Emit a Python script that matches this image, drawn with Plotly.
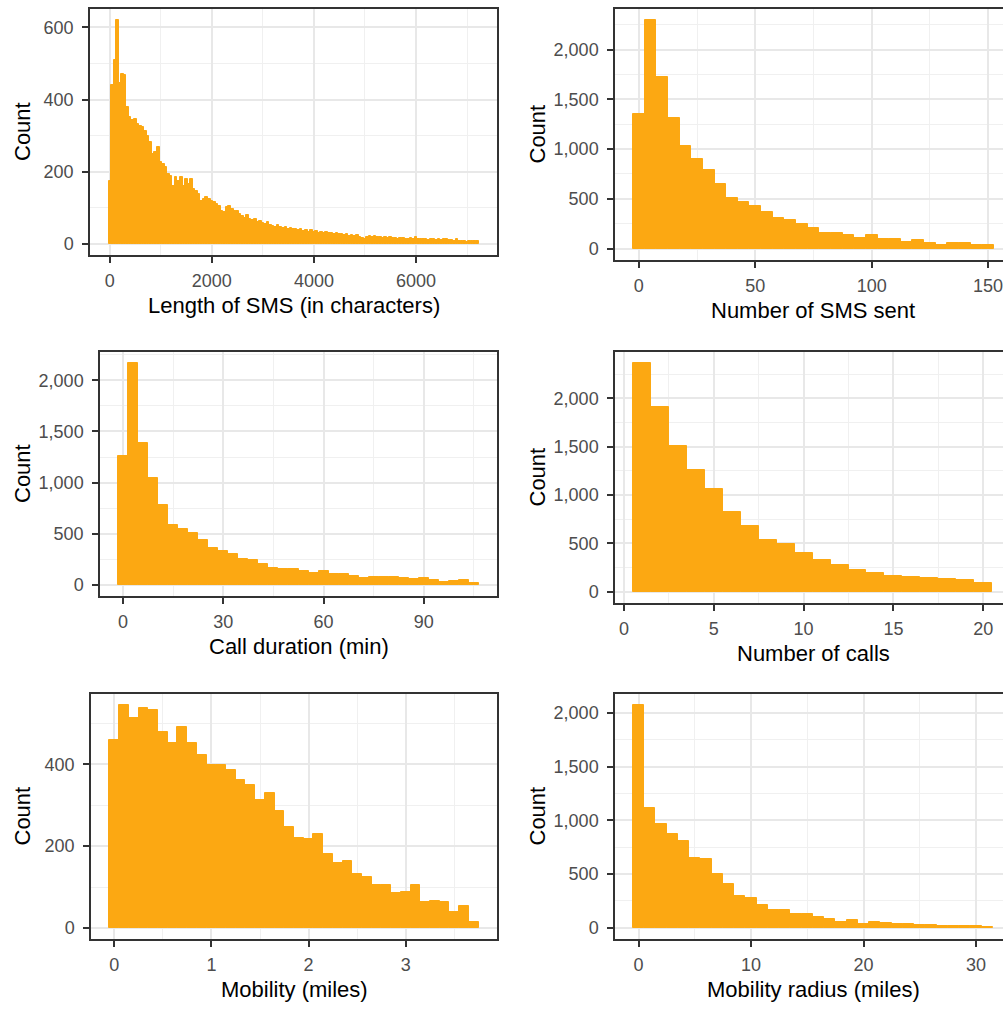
import numpy as np
import plotly.graph_objects as go

# ---------------- DATA ----------------
# Panel 1: Length of SMS (in characters), bin width 50, first bin centred at 0
sms_len_start = 0
sms_len_width = 50
sms_len_counts = [
    175, 440, 510, 620, 445, 470, 468, 380, 352, 342,
    347, 333, 328, 325, 314, 300, 281, 250, 254, 268,
    226, 222, 212, 194, 189, 161, 184, 175, 184, 161,
    180, 165, 180, 153, 147, 139, 119, 125, 129, 125,
    120, 115, 111, 106, 92, 87, 101, 106, 97, 92,
    90, 84,
    78, 72, 80, 70, 66, 68, 60, 62, 58, 54,
    60, 52, 50, 48, 52, 46, 45, 48, 42, 44,
    40, 42, 38, 41, 36, 38, 34, 37, 33, 35,
    31, 34, 30, 32, 29, 31, 28, 30, 26, 28,
    25, 27, 23, 25, 22, 24, 20, 17, 12, 18,
    21, 19, 22, 18, 20, 17, 19, 16, 18, 15,
    17, 14, 16, 15, 14, 13, 15, 12, 18, 13,
    12, 14, 13, 11, 13, 12, 10, 12, 11, 13,
    12, 10, 11, 9, 12, 9, 8, 7, 6, 7,
    8, 9, 7,
]

# Panel 2: Number of SMS sent, bin width 5, centred at 0
sms_num_start = 0
sms_num_width = 5
sms_num_counts = [
    1353, 2293, 1727, 1310, 1027, 900, 793, 650, 507, 470,
    427, 367, 310, 287, 250, 207, 160, 160, 137, 110,
    133, 93, 100, 70, 83, 60, 40, 53, 53, 33, 33,
]

# Panel 3: Call duration (min), bin width 3, centred at 0
call_dur_start = 0
call_dur_width = 3
call_dur_counts = [
    1264, 2169, 1391, 1050, 784, 590, 551, 509, 444, 363,
    331, 298, 250, 240, 201, 169, 159, 152, 136, 120,
    136, 110, 104, 88, 65, 81, 81, 81, 71, 55,
    65, 49, 29, 39, 45, 16,
]

# Panel 4: Number of calls, bin width 1, centred at 1
call_num_start = 1
call_num_width = 1
call_num_counts = [
    2361, 1907, 1502, 1254, 1065, 821, 677, 529, 495, 395,
    326, 275, 220, 196, 162, 151, 137, 127, 117, 86,
]

# Panel 5: Mobility (miles), bin width 0.1, centred at 0
mob_start = 0
mob_width = 0.1
mob_counts = [
    460, 545, 513, 539, 533, 478, 451, 491, 451, 423,
    398, 398, 386, 362, 349, 313, 329, 286, 247, 221,
    217, 229, 180, 159, 163, 131, 125, 104, 104, 86,
    88, 106, 64, 65, 64, 39, 54, 15,
]

# Panel 6: Mobility radius (miles), bin width 1, centred at 0
rad_start = 0
rad_width = 1
rad_counts = [
    2071, 1113, 968, 875, 804, 649, 643, 501, 411, 300,
    278, 216, 170, 170, 130, 130, 102, 83, 53, 71,
    40, 53, 46, 37, 34, 28, 25, 22, 15, 19,
    22, 6,
]

x_titles = ["Length of SMS (in characters)", "Number of SMS sent",
            "Call duration (min)", "Number of calls",
            "Mobility (miles)", "Mobility radius (miles)"]
y_title = "Count"

# ---------------- STYLE / LAYOUT ----------------
W, H = 1003, 1011
BAR_COLOR = "#FCA812"
FONT = "Liberation Sans, Arial, sans-serif"
TICK_COLOR = "#4D4D4D"
BORDER = "#333333"
GRID = "#E8E8E8"
GRID_MINOR = "#F0F0F0"

panels = [
    dict(counts=sms_len_counts, start=sms_len_start, width=sms_len_width,
         xr=[-387.5, 7587.5], yr=[-31, 651],
         xt=[0, 2000, 4000, 6000], xm=[1000, 3000, 5000, 7000],
         yt=[0, 200, 400, 600], ym=[100, 300, 500],
         box=(90, 497, 9, 255), cut=False, xc=293.5),
    dict(counts=sms_num_counts, start=sms_num_start, width=sms_num_width,
         xr=[-10.25, 156.4], yr=[-115, 2408],
         xt=[0, 50, 100, 150], xm=[25, 75, 125],
         yt=[0, 500, 1000, 1500, 2000], ym=[250, 750, 1250, 1750, 2250],
         box=(615, 1003, 9, 260), cut=True, xc=813),
    dict(counts=call_dur_counts, start=call_dur_start, width=call_dur_width,
         xr=[-6.9, 111.9], yr=[-108, 2277],
         xt=[0, 30, 60, 90], xm=[15, 45, 75, 105],
         yt=[0, 500, 1000, 1500, 2000], ym=[250, 750, 1250, 1750, 2250],
         box=(100, 497, 352, 596), cut=False, xc=298.5),
    dict(counts=call_num_counts, start=call_num_start, width=call_num_width,
         xr=[-0.5, 21.1], yr=[-118, 2479],
         xt=[0, 5, 10, 15, 20], xm=[2.5, 7.5, 12.5, 17.5],
         yt=[0, 500, 1000, 1500, 2000], ym=[250, 750, 1250, 1750, 2250],
         box=(615, 1003, 352, 603), cut=True, xc=813),
    dict(counts=mob_counts, start=mob_start, width=mob_width,
         xr=[-0.24, 3.94], yr=[-27, 572],
         xt=[0, 1, 2, 3], xm=[0.5, 1.5, 2.5, 3.5],
         yt=[0, 200, 400], ym=[100, 300, 500],
         box=(91, 497, 694, 939), cut=False, xc=294),
    dict(counts=rad_counts, start=rad_start, width=rad_width,
         xr=[-2.1, 32.4], yr=[-103.5, 2175],
         xt=[0, 10, 20, 30], xm=[5, 15, 25],
         yt=[0, 500, 1000, 1500, 2000], ym=[250, 750, 1250, 1750],
         box=(615, 1003, 694, 939), cut=True, xc=813),
]

fig = go.Figure()
layout = dict(
    width=W, height=H,
    margin=dict(l=0, r=0, t=0, b=0),
    paper_bgcolor="white", plot_bgcolor="white",
    showlegend=False, bargap=0,
    font=dict(family=FONT, color=TICK_COLOR, size=18),
)
annotations = []

for i, p in enumerate(panels):
    n = i + 1
    xa = "x" if n == 1 else f"x{n}"
    ya = "y" if n == 1 else f"y{n}"
    counts = np.array(p["counts"], dtype=float)
    centers = p["start"] + p["width"] * np.arange(len(counts))
    fig.add_trace(go.Bar(
        x=centers, y=counts, width=p["width"],
        marker=dict(color=BAR_COLOR, line=dict(color=BAR_COLOR, width=1.0)),
        xaxis=xa, yaxis=ya, hoverinfo="x+y",
    ))
    x0, x1, y0, y1 = p["box"]
    common = dict(
        showgrid=True, gridcolor=GRID, gridwidth=1.6,
        zeroline=False, showline=True, linecolor=BORDER, linewidth=1.5,
        ticks="outside", ticklen=6, tickwidth=1.5, tickcolor=BORDER,
        tickfont=dict(family=FONT, size=18, color=TICK_COLOR),
        automargin=False, fixedrange=True, ticklabeloverflow="allow",
    )
    layout["xaxis" + ("" if n == 1 else str(n))] = dict(
        common,
        domain=[x0 / W, min(x1 / W, 1.0)],
        range=p["xr"], anchor=ya,
        tickmode="array", tickvals=p["xt"], ticktext=[str(v) for v in p["xt"]],
        minor=dict(tickmode="array", tickvals=p["xm"], showgrid=True,
                   gridcolor=GRID_MINOR, gridwidth=0.9, ticks=""),
        mirror=True, ticklabelstandoff=3,
    )
    layout["yaxis" + ("" if n == 1 else str(n))] = dict(
        common,
        domain=[1 - y1 / H, 1 - y0 / H],
        range=p["yr"], anchor=xa,
        tickmode="array", tickvals=p["yt"],
        ticktext=[f"{v:,}" for v in p["yt"]],
        minor=dict(tickmode="array", tickvals=p["ym"], showgrid=True,
                   gridcolor=GRID_MINOR, gridwidth=0.9, ticks=""),
        mirror=(not p["cut"]), ticklabelstandoff=5,
    )
    # x-axis title
    annotations.append(dict(
        text=x_titles[i], xref="paper", yref="paper",
        x=p["xc"] / W, y=1 - (y1 + 50) / H,
        xanchor="center", yanchor="middle", showarrow=False,
        font=dict(family=FONT, size=22, color="#000000"),
    ))
    # y-axis title
    annotations.append(dict(
        text=y_title, xref="paper", yref="paper",
        x=(22 if not p["cut"] else 537) / W, y=1 - ((y0 + y1) / 2) / H,
        xanchor="center", yanchor="middle", textangle=-90, showarrow=False,
        font=dict(family=FONT, size=22, color="#000000"),
    ))

layout["annotations"] = annotations
fig.update_layout(**layout)
fig.write_html(
    "out.html",
    config={"displayModeBar": False},
    post_script="document.body.style.margin='0px';document.body.style.overflow='hidden';",
)
